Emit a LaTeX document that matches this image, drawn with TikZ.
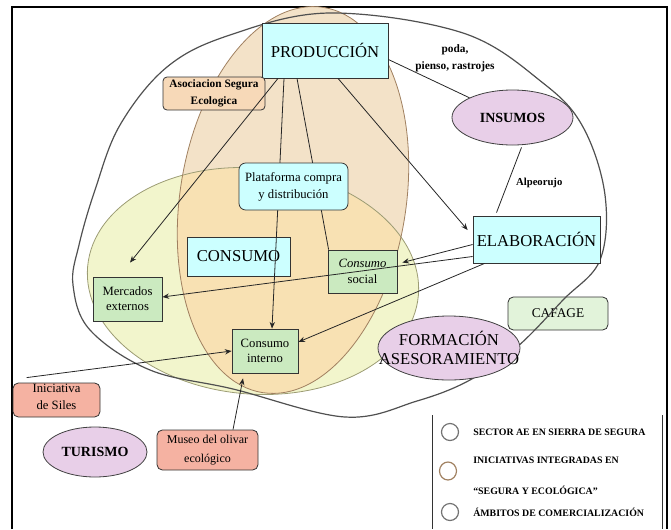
\documentclass[tikz,border=0pt]{standalone}
\usepackage{fontspec}
\setmainfont{Liberation Serif}
\usetikzlibrary{arrows.meta,calc,shapes.geometric}
\definecolor{cyanbox}{HTML}{CCFFFF}
\definecolor{greenbox}{HTML}{CBEAC0}
\definecolor{cafagec}{HTML}{E2F3DA}
\definecolor{salmonc}{HTML}{F5B2A2}
\definecolor{lilacc}{HTML}{E8CFE8}
\definecolor{asocc}{HTML}{F7D9B8}
\definecolor{tanc}{HTML}{F3E2C8}
\definecolor{yellowc}{HTML}{F2F5CC}
\definecolor{overlapc}{HTML}{F8E1B3}
\definecolor{tanline}{HTML}{A08060}
\definecolor{yelline}{HTML}{9C9C74}
\definecolor{bigline}{HTML}{505050}
\begin{document}
\begin{tikzpicture}[x=0.75pt,y=-0.75pt,
  conn/.style={draw=black!85, line width=0.6pt},
  arr/.style={conn, -{Stealth[length=5pt,width=4pt]}},
  boxbase/.style={draw=black!80, line width=0.6pt, inner sep=1pt, align=center},
  bigfont/.style={font=\fontsize{12.5}{14.25}\selectfont},
  smallfont/.style={font=\fontsize{9.5}{11.25}\selectfont},
  ellshape/.style={ellipse, draw=black!75, line width=0.6pt, fill=lilacc, inner sep=0pt},
  legtext/.style={anchor=west, font=\bfseries\fontsize{7.4}{8}\selectfont, inner sep=0pt}]
\useasboundingbox (0,0) rectangle (671,529);
% frame
\draw[line width=2.2pt] (12,529) -- (12,7) -- (667,7) -- (667,529);

% coloured ellipses
\fill[yellowc, rotate around={-5:(253,281)}] (253,281) ellipse [x radius=166, y radius=113];
\fill[tanc, rotate around={-9:(293,200)}] (293,200) ellipse [x radius=113, y radius=195];
\begin{scope}
  \clip[rotate around={-5:(253,281)}] (253,281) ellipse [x radius=166, y radius=113];
  \fill[overlapc, rotate around={-9:(293,200)}] (293,200) ellipse [x radius=113, y radius=195];
\end{scope}
\draw[yelline, line width=0.6pt, rotate around={-5:(253,281)}] (253,281) ellipse [x radius=166, y radius=113];
\draw[tanline, line width=0.6pt, rotate around={-9:(293,200)}] (293,200) ellipse [x radius=113, y radius=195];

% node under the big outline
\node[boxbase, fill=cafagec, rounded corners=4pt, minimum width=75pt, minimum height=24.75pt, font=\fontsize{10}{12}\selectfont] (caf) at (558,313.5) {CAFAGE};

% big sector outline
\draw[bigline, line width=0.9pt] plot[smooth cycle, tension=0.6] coordinates {
 (330,13) (463,33) (543,83) (583,127) (605,195) (600,260) (563,300) (517,347)
 (470,380) (417,401) (345,417) (233,389) (150,370) (90,330) (73,285) (79,245)
 (95,190) (120,125) (167,67) (230,35)};

% nodes
\node[boxbase, fill=cyanbox, minimum width=94.5pt, minimum height=41.25pt, bigfont] (prod) at (325,50.5) {PRODUCCIÓN};
\node[boxbase, fill=asocc, rounded corners=3pt, minimum width=76.5pt, minimum height=24.75pt, font=\bfseries\fontsize{8.5}{12.75}\selectfont] (asoc) at (214,93.5) {Asociacion Segura\\Ecologica};
\node[boxbase, fill=cyanbox, minimum width=77.25pt, minimum height=29.25pt, bigfont] (cons) at (238.5,256.5) {CONSUMO};
\node[boxbase, fill=greenbox, minimum width=51.75pt, minimum height=32.25pt, font=\fontsize{9.5}{12}\selectfont] (csoc) at (362.5,271.5) {\textit{Consumo}\\social};
\node[boxbase, fill=greenbox, minimum width=51.75pt, minimum height=33pt, smallfont] (merc) at (127.5,299) {Mercados\\externos};
\node[boxbase, fill=greenbox, minimum width=49.5pt, minimum height=33pt, smallfont] (cint) at (265,351) {Consumo\\interno};
\node[boxbase, fill=cyanbox, minimum width=95.25pt, minimum height=35.25pt, bigfont] (elab) at (536.5,239.5) {ELABORACIÓN};
\node[ellshape, minimum width=90.75pt, minimum height=41.25pt] (ins) at (512.5,117.5) {};
\node[font=\bfseries\fontsize{10.5}{12}\selectfont] at (ins) {INSUMOS};
\node[ellshape, minimum width=106.5pt, minimum height=48pt] (form) at (449,348) {};
\node[align=center, font=\fontsize{12.5}{14.25}\selectfont] at (form) {FORMACIÓN\\ASESORAMIENTO};
\node[boxbase, fill=salmonc, rounded corners=4pt, minimum width=65.25pt, minimum height=25.5pt] (siles) at (56.5,400) {};
\node[align=center, font=\fontsize{9.5}{12.75}\selectfont] at (56.5,396.5) {Iniciativa\\de Siles};
\node[ellshape, minimum width=78pt, minimum height=37.5pt] (tur) at (95,452) {};
\node[font=\bfseries\fontsize{10.5}{12}\selectfont] at (tur) {TURISMO};
\node[boxbase, fill=salmonc, rounded corners=4pt, minimum width=75.75pt, minimum height=30pt, font=\fontsize{9}{14.25}\selectfont] (museo) at (207.5,450) {Museo del olivar\\ecológico};

% connectors
\draw[arr] ($(prod.south)+(-47,0)$) -- ($(merc.north)+(2.5,-14)$);
\draw[arr] ($(prod.south)+(-41,0)$) -- ($(cint.north)+(7,0)$);
\draw[conn] ($(prod.south)+(-28,0)$) -- ($(csoc.north west)+(1,0)$);
\draw[arr] ($(prod.south)+(13,0)$) -- ($(elab.west)+(-5,-9.5)$);
\draw[conn] ($(prod.east)+(0,9)$) -- (ins.north west);
\draw[conn] ($(ins.south)+(9,2)$) -- node[right, font=\bfseries\fontsize{8}{9}\selectfont, inner sep=6pt, pos=0.55] {Alpeorujo} ($(elab.north)+(-40,-3)$);
\draw[arr] ($(elab.west)+(0,5)$) -- ($(csoc.east)+(5,-9)$);
\draw[arr] ($(elab.west)+(0,17)$) -- ($(merc.east)+(0,-2)$);
\draw[arr] ($(elab.south west)+(12,0)$) -- ($(cint.east)+(0,-9)$);
\draw[arr] ($(siles.north west)+(14,-5)$) -- (cint.west);
\draw[arr] ($(museo.north)+(25.5,0)$) -- ($(cint.south)+(-22,5)$);

% node drawn over connectors
\node[boxbase, fill=cyanbox, rounded corners=5pt, minimum width=81.75pt, minimum height=35.25pt, font=\fontsize{9.5}{12.75}\selectfont] (plat) at (293.5,186.5) {Plataforma compra\\y distribución};

% free label
\node[align=center, font=\bfseries\fontsize{8.5}{12.75}\selectfont] (poda) at (455,58) {poda,\\pienso, rastrojes};

% legend
\draw[black!80, line width=0.6pt] (432,415) -- (432,529);
\draw[black!80, line width=0.6pt] (662,415) -- (662,529);
\node[circle, draw=black!55, line width=0.9pt, minimum size=12.75pt, inner sep=0pt] (c1) at (450,432) {};
\node[ellipse, draw=tanline, line width=0.9pt, minimum width=12.75pt, minimum height=13.5pt, inner sep=0pt] (c2) at (448,471) {};
\node[circle, draw=black!55, line width=0.9pt, minimum size=12.75pt, inner sep=0pt] (c3) at (450,512) {};
\node[legtext] (t1) at (473,432) {SECTOR AE EN SIERRA DE SEGURA};
\node[legtext] (t2) at (473,460) {INICIATIVAS INTEGRADAS EN};
\node[legtext] (t2b) at (473,490) {“SEGURA Y ECOLÓGICA”};
\node[legtext] (t3) at (473,512) {ÁMBITOS DE COMERCIALIZACIÓN};
\end{tikzpicture}
\end{document}
